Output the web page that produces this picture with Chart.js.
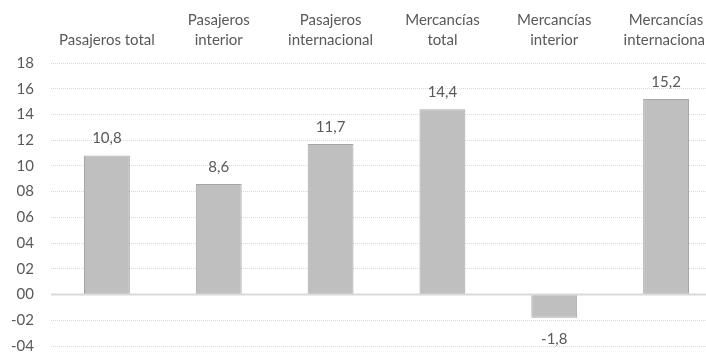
<!DOCTYPE html>
<html>
<head>
<meta charset="utf-8">
<script src="https://cdn.jsdelivr.net/npm/chart.js@4"></script>
<style>
  html, body { margin: 0; padding: 0; background: #fff; overflow: hidden; }
</style>
</head>
<body>
<canvas id="dataChart" width="722" height="352"></canvas>
<script>
// categories (two lines where the original wraps)
const categories = [
    ["Pasajeros total"],
    ["Pasajeros", "interior"],
    ["Pasajeros", "internacional"],
    ["Mercancías", "total"],
    ["Mercancías", "interior"],
    ["Mercancías", "internacional"]
];
const values = [10.8, 8.6, 11.7, 14.4, -1.8, 15.2];
const yTicks = [-4, -2, 0, 2, 4, 6, 8, 10, 12, 14, 16, 18];

const textColor = "#595959";
const fontFamily = "Lato, 'Open Sans', sans-serif";

// Format axis ticks like 00, 02, -02
function fmtTick(v) {
    const s = String(Math.abs(v)).padStart(2, "0");
    return (v < 0 ? "-" : "") + s;
}

// Zero line drawn over the bars, like the original
const zeroLine = {
    id: "zeroLine",
    afterDatasetsDraw(chart) {
        const { ctx, chartArea, scales } = chart;
        const y = scales.y.getPixelForValue(0);
        ctx.save();
        ctx.strokeStyle = "#d9d9d9";
        ctx.lineWidth = 2;
        ctx.beginPath();
        ctx.moveTo(chartArea.left, y);
        ctx.lineTo(chartArea.right, y);
        ctx.stroke();
        ctx.restore();
    }
};

// Value labels above (or below) each bar
const barLabels = {
    id: "barLabels",
    afterDatasetsDraw(chart) {
        const { ctx } = chart;
        const meta = chart.getDatasetMeta(0);
        ctx.save();
        ctx.fillStyle = textColor;
        ctx.font = "15px " + fontFamily;
        ctx.textAlign = "center";
        ctx.textBaseline = "middle";
        meta.data.forEach((bar, i) => {
            const v = values[i];
            const txt = v.toFixed(1).replace(".", ",");
            const y = v >= 0 ? bar.y - 17 : bar.y + 21;
            ctx.fillText(txt, bar.x, y);
        });
        ctx.restore();
    }
};

new Chart(document.getElementById("dataChart"), {
    type: "bar",
    data: {
        labels: categories,
        datasets: [{
            data: values,
            backgroundColor: "#bfbfbf",
            borderColor: "#a6a6a6",
            borderWidth: 1,
            categoryPercentage: 1,
            barPercentage: 0.41
        }]
    },
    options: {
        responsive: false,
        animation: false,
        layout: { padding: 0 },
        plugins: {
            legend: { display: false },
            tooltip: { enabled: false }
        },
        scales: {
            x: {
                position: "top",
                grid: { display: false, drawTicks: false },
                border: { display: false },
                ticks: {
                    color: textColor,
                    font: { family: fontFamily, size: 15, lineHeight: "20px" },
                    padding: 13,
                    maxRotation: 0,
                    autoSkip: false
                },
                afterFit: axis => { axis.height = 63; }
            },
            y: {
                min: -4,
                max: 18,
                afterBuildTicks: axis => { axis.ticks = yTicks.map(v => ({ value: v })); },
                grid: {
                    color: "#d9d9d9",
                    lineWidth: 1,
                    drawTicks: false
                },
                border: { display: false, dash: [1, 1] },
                ticks: {
                    color: textColor,
                    font: { family: fontFamily, size: 15 },
                    padding: 17,
                    callback: v => fmtTick(v)
                },
                afterFit: axis => {
                    axis.width = 51;
                    axis.paddingTop = 0;
                    axis.paddingBottom = 6;
                }
            }
        }
    },
    plugins: [zeroLine, barLabels]
});
</script>
</body>
</html>
